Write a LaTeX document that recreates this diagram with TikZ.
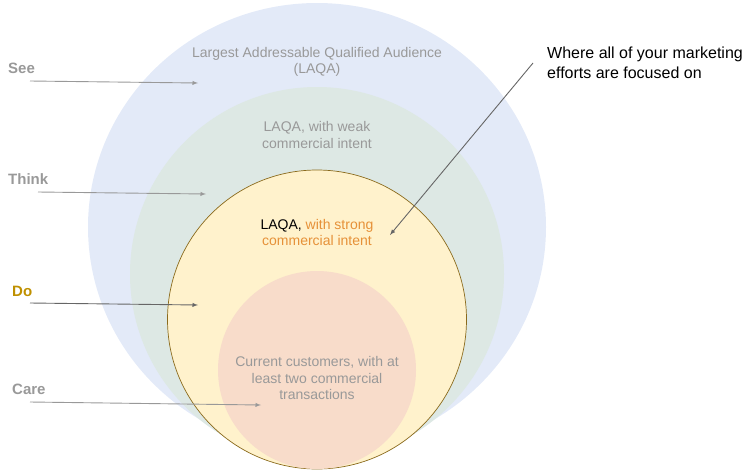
\documentclass[tikz,border=0pt]{standalone}
\usepackage{fontspec}
\setmainfont{Liberation Sans}
\usetikzlibrary{positioning}

\definecolor{seeblue}{HTML}{E3EAF8}
\definecolor{thinkgreen}{HTML}{DDE8E4}
\definecolor{doyellow}{HTML}{FFF2CC}
\definecolor{carepink}{HTML}{F8DCCA}
\definecolor{ringbrown}{HTML}{8A6A1C}
\definecolor{softgray}{HTML}{999999}
\definecolor{darkgray}{HTML}{666666}
\definecolor{dogold}{HTML}{BF9000}
\definecolor{strongorange}{HTML}{E69138}

\tikzset{
    ringtext/.style={text=softgray,align=center,font=\fontsize{14}{16.5}\selectfont},
    funnel/.style={font=\fontsize{15}{17}\selectfont\bfseries,anchor=west,inner sep=0pt},
    pointer/.style={-latex,line width=0.9pt,softgray}
}

\begin{document}
\begin{tikzpicture}[x=1pt,y=-1pt]
\useasboundingbox (0,0) rectangle (752,472);

% the four rings
\fill[seeblue] (317,227) circle[x radius=229,y radius=224];
\fill[thinkgreen] (317,274) circle[radius=187];
\filldraw[fill=doyellow,draw=ringbrown,line width=0.7pt] (317,319.5) circle[radius=149.5];
\fill[carepink] (317,370) circle[radius=99];

\node (laqa) at (317,62) [ringtext] {Largest Addressable Qualified Audience\\(LAQA)};
\node (weak) at (317,135) [ringtext] {LAQA, with weak\\commercial intent};
\node (strong) at (317,232.5) [ringtext,text=strongorange]
    {\textcolor{black}{LAQA,} with strong\\commercial intent};
\node (customers) at (317,378) [ringtext]
    {Current customers, with at\\least two commercial\\transactions};

\node (focus) at (547,63) [anchor=west,align=left,inner sep=0pt,
    font=\fontsize{16}{20}\selectfont] {Where all of your marketing\\efforts are focused on};

% stage labels
\node (see) at (8,68) [funnel,softgray] {See};
\node (think) at (8,179) [funnel,softgray] {Think};
\node (do) at (12,291) [funnel,dogold] {Do};
\node (care) at (12,389) [funnel,softgray] {Care};

\coordinate (seefrom) at (30,81);    \coordinate (seeto) at (198,83);
\coordinate (thinkfrom) at (38,192); \coordinate (thinkto) at (206,194);
\coordinate (dofrom) at (30,303);    \coordinate (doto) at (198,305);
\coordinate (carefrom) at (30,402);  \coordinate (careto) at (261,405);
\coordinate (focusfrom) at (533,63); \coordinate (focusto) at (390,235);

\draw[pointer] (seefrom) -- (seeto);
\draw[pointer] (thinkfrom) -- (thinkto);
\draw[pointer,darkgray] (dofrom) -- (doto);
\draw[pointer] (carefrom) -- (careto);
\draw[pointer,darkgray] (focusfrom) -- (focusto);

\end{tikzpicture}
\end{document}
